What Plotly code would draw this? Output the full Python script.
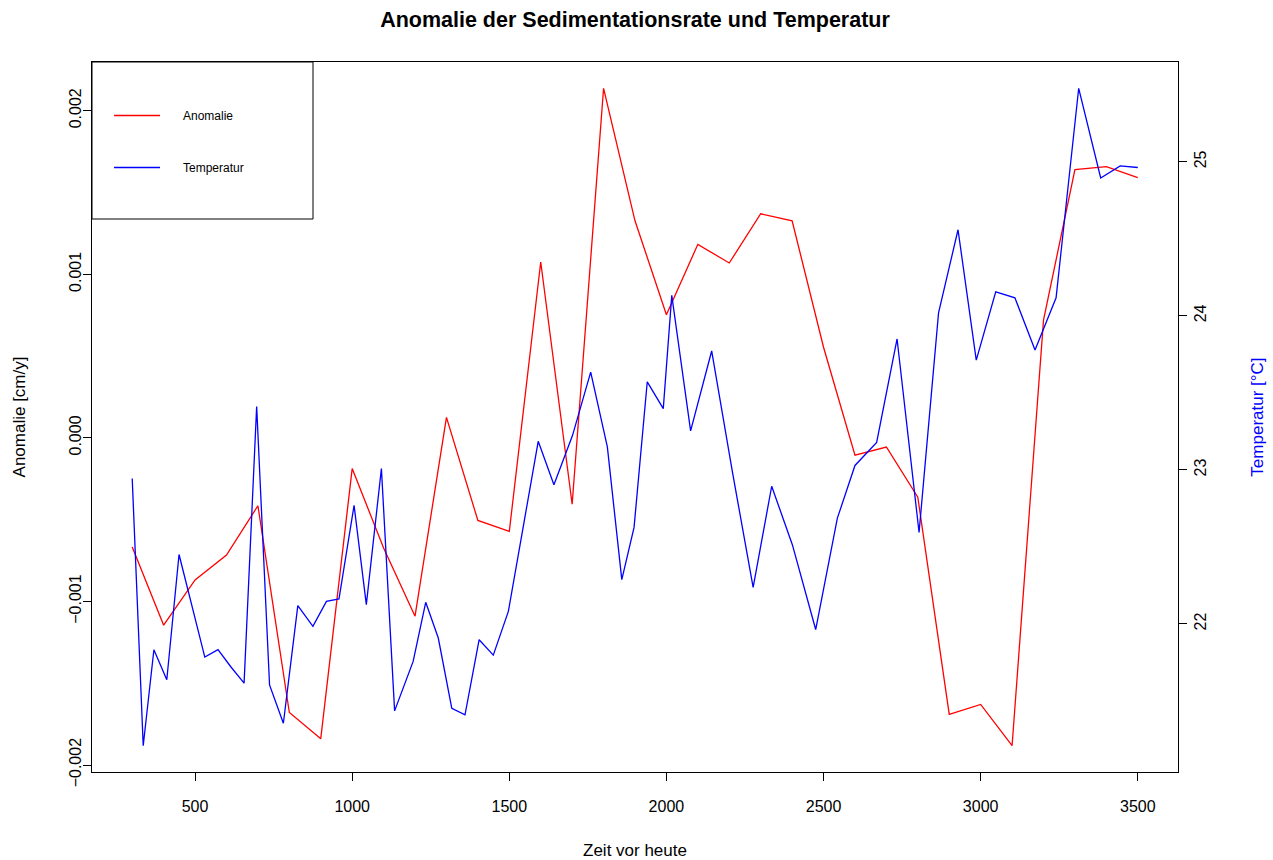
import plotly.graph_objects as go

# ---- data -------------------------------------------------------------
anom_years = [300, 400, 500, 600, 700, 800, 900, 1000, 1100, 1200, 1300, 1400,
              1500, 1600, 1700, 1800, 1900, 2000, 2100, 2200, 2300, 2400, 2500,
              2600, 2700, 2800, 2900, 3000, 3100, 3200, 3300, 3400, 3500]
anomalie = [-0.000667, -0.001145, -0.000869, -0.000716, -0.000415, -0.001679,
            -0.001839, -0.000188, -0.000673, -0.001090, 0.000125, -0.000505,
            -0.000572, 0.001075, -0.000406, 0.002137, 0.001327, 0.000753,
            0.001183, 0.001069, 0.001370, 0.001327, 0.000554, -0.000106,
            -0.000056, -0.000363, -0.001691, -0.001630, -0.001882, 0.000720,
            0.001640, 0.001658, 0.001591]

temp_years = [300, 335, 369, 410, 449, 531, 573, 613, 656, 696, 737, 781, 827,
              875, 918, 958, 1006, 1045, 1093, 1135, 1194, 1234, 1274, 1317,
              1359, 1404, 1449, 1497, 1544, 1592, 1642, 1701, 1759, 1812, 1858,
              1897, 1939, 1990, 2017, 2077, 2144, 2210, 2276, 2335, 2401, 2475,
              2544, 2600, 2669, 2734, 2804, 2866, 2928, 2986, 3048, 3109, 3173,
              3240, 3312, 3382, 3444, 3500]
temperatur = [22.944, 21.210, 21.833, 21.638, 22.451, 21.785, 21.833, 21.724,
              21.616, 23.412, 21.605, 21.356, 22.119, 21.985, 22.147, 22.163,
              22.770, 22.126, 23.009, 21.436, 21.757, 22.141, 21.909, 21.453,
              21.410, 21.898, 21.798, 22.082, 22.627, 23.186, 22.904, 23.223,
              23.635, 23.149, 22.288, 22.627, 23.572, 23.398, 24.133, 23.253,
              23.772, 22.987, 22.238, 22.894, 22.513, 21.964, 22.687, 23.029,
              23.179, 23.850, 22.594, 24.019, 24.559, 23.713, 24.156, 24.117,
              23.779, 24.117, 25.477, 24.895, 24.973, 24.963]

x_ticks = [500, 1000, 1500, 2000, 2500, 3000, 3500]
y_ticks = [-0.002, -0.001, 0.000, 0.001, 0.002]
y2_ticks = [22, 23, 24, 25]

title_text = "Anomalie der Sedimentationsrate und Temperatur"
x_label = "Zeit vor heute"
y_label = "Anomalie [cm/y]"
y2_label = "Temperatur [°C]"
series_names = ["Anomalie", "Temperatur"]


def r_range(vals):
    lo, hi = min(vals), max(vals)
    pad = (hi - lo) * 0.04
    return [lo - pad, hi + pad]


FONT = "Liberation Sans, Arial, Helvetica, sans-serif"
GAP = "\u2003\u2002"  # spacing between legend line sample and its label

fig = go.Figure()
fig.add_trace(go.Scatter(x=anom_years, y=anomalie, mode="lines",
                         name=GAP + series_names[0],
                         line=dict(color="#FF0000", width=1.3),
                         legendgroup="a", yaxis="y"))
fig.add_trace(go.Scatter(x=temp_years, y=temperatur, mode="lines",
                         name=GAP + series_names[1],
                         line=dict(color="#0000FF", width=1.3),
                         legendgroup="b", yaxis="y2"))

W, H = 1273, 860
L, R, T, B = 92, 95, 62, 88
pw, ph = W - L - R, H - T - B

# legend frame (R style)
fig.add_shape(type="rect", xref="paper", yref="paper",
              x0=0, x1=(313 - L) / pw, y0=1 - (219 - T) / ph, y1=1,
              line=dict(color="black", width=1), fillcolor="white", layer="below")

axis_common = dict(showgrid=False, zeroline=False, ticks="outside", ticklen=8,
                   tickwidth=1, tickcolor="black", linecolor="black", linewidth=1,
                   showline=True, tickfont=dict(family=FONT, size=16, color="black"))

fig.update_layout(
    width=W, height=H,
    margin=dict(l=L, r=R, t=T, b=B, autoexpand=False),
    paper_bgcolor="white", plot_bgcolor="white",
    font=dict(family=FONT, color="black"),
    title=dict(text="<b>" + title_text + "</b>", x=0.5, xref="paper",
               y=1 - 19 / H, yref="container", yanchor="middle",
               font=dict(family=FONT, size=21.5, color="black")),
    xaxis=dict(range=r_range(anom_years + temp_years), tickvals=x_ticks,
               mirror=True, ticklabelstandoff=12,
               title=dict(text=x_label, standoff=31,
                          font=dict(family=FONT, size=17, color="black")),
               **axis_common),
    yaxis=dict(range=r_range(anomalie), tickvals=y_ticks, tickformat=".3f",
               tickangle=-90, mirror=True, ticklabelstandoff=-4,
               title=dict(text=y_label, standoff=36,
                          font=dict(family=FONT, size=17, color="black")),
               **axis_common),
    yaxis2=dict(range=r_range(temperatur), tickvals=y2_ticks, overlaying="y",
                side="right", tickangle=-90,
                title=dict(text=y2_label, standoff=42,
                           font=dict(family=FONT, size=17, color="#0000FF")),
                **axis_common),
    showlegend=True,
    legend=dict(x=(109 - L) / pw, y=1 - (101 - T) / ph, xanchor="left", yanchor="top",
                bgcolor="rgba(0,0,0,0)", borderwidth=0, tracegroupgap=33,
                font=dict(family=FONT, size=12, color="black"), itemwidth=46),
)

fig.write_html("out.html")
